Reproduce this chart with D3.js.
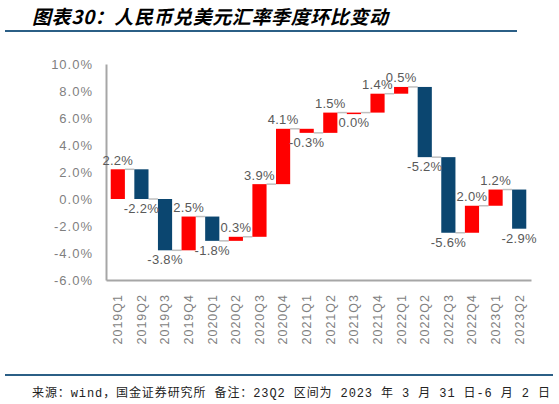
<!DOCTYPE html>
<html>
<head>
<meta charset="utf-8">
<script src="https://cdn.jsdelivr.net/npm/d3@7"></script>
<style>
  body { margin: 0; background: #fff; }
  svg { display: block; }
</style>
</head>
<body>
<div id="chart"></div>
<script>
// Data
const quarters = ["2019Q1", "2019Q2", "2019Q3", "2019Q4", "2020Q1", "2020Q2", "2020Q3", "2020Q4",
                  "2021Q1", "2021Q2", "2021Q3", "2021Q4", "2022Q1", "2022Q2", "2022Q3", "2022Q4",
                  "2023Q1", "2023Q2"];
const changes = [2.2, -2.2, -3.8, 2.5, -1.8, 0.3, 3.9, 4.1, -0.3, 1.5, 0.0, 1.4, 0.5, -5.2, -5.6, 2.0, 1.2, -2.9];
const series = ["升", "降", "降", "升", "降", "升", "升", "升", "升", "升", "升", "升", "升", "降", "降", "升", "升", "降"];
const yTicks = [-6, -4, -2, 0, 2, 4, 6, 8, 10];

const titleText = "图表30：人民币兑美元汇率季度环比变动";
const footText = "来源：wind，国金证券研究所 备注：23Q2 区间为 2023 年 3 月 31 日-6 月 2 日";

// Dimensions
const width = 559,
    height = 404;

const margin = {
    top: 64,
    bottom: 124,
    left: 106,
    right: 28
};

const svg = d3.select("#chart")
    .append("svg")
    .attr("width", width)
    .attr("height", height);

// Title and rules
svg.append("text")
    .attr("x", 32)
    .attr("y", 24)
    .attr("textLength", 356)
    .attr("lengthAdjust", "spacing")
    .text(titleText)
    .style("font-family", "'Noto Sans CJK SC', sans-serif")
    .style("font-size", "19px")
    .style("font-weight", "bold")
    .style("font-style", "italic")
    .style("fill", "#000");

svg.append("line")
    .attr("x1", 5).attr("x2", 517)
    .attr("y1", 31).attr("y2", 31)
    .attr("stroke", "#2B5F86")
    .attr("stroke-width", 2);

svg.append("line")
    .attr("x1", 5).attr("x2", 553)
    .attr("y1", 375).attr("y2", 375)
    .attr("stroke", "#2B5F86")
    .attr("stroke-width", 2);

svg.append("text")
    .attr("x", 32)
    .attr("y", 397)
    .attr("textLength", 518)
    .attr("lengthAdjust", "spacing")
    .text(footText)
    .style("font-family", "'Liberation Mono', 'Noto Sans CJK SC', monospace")
    .style("font-size", "12px")
    .style("fill", "#222");

// Cumulative levels
const ends = [];
changes.reduce((acc, v, i) => { ends[i] = acc + v; return ends[i]; }, 0);
const starts = ends.map((e, i) => e - changes[i]);

// Scales
const xScale = d3.scaleBand()
    .domain(quarters)
    .range([margin.left, width - margin.right])
    .paddingInner(0.4)
    .paddingOuter(0.2);

const yScale = d3.scaleLinear()
    .domain([-6, 10])
    .range([height - margin.bottom, margin.top]);

const colorScale = d3.scaleOrdinal()
    .domain(["升", "降"])
    .range(["#FF0000", "#0B4670"]);

// Axes
const yAxis = svg.append("g")
    .attr("transform", `translate(${margin.left}, 0)`)
    .call(d3.axisLeft(yScale).tickValues(yTicks).tickSize(0).tickPadding(13)
        .tickFormat(d => d.toFixed(1) + "%"));

const xAxis = svg.append("g")
    .attr("transform", `translate(0, ${height - margin.bottom})`)
    .call(d3.axisBottom(xScale).tickSize(0).tickSizeOuter(0));

xAxis.selectAll("text")
    .attr("transform", "rotate(-90)")
    .attr("x", -14)
    .attr("y", 0)
    .attr("dy", "0.35em")
    .style("text-anchor", "end")
    .style("letter-spacing", "1px")
    .style("font-size", "12.5px");

[xAxis, yAxis].forEach(ax => {
    ax.select(".domain").attr("stroke", "#A6A6A6").attr("stroke-width", 2);
    ax.selectAll("text")
        .style("font-family", "'Liberation Sans', Arial, sans-serif")
        .style("fill", "#7F7F7F");
});
yAxis.selectAll("text").style("font-size", "13px").style("letter-spacing", "1px");

// Connectors
svg.selectAll(".connector")
    .data(quarters.slice(0, -1))
    .enter()
    .append("line")
    .attr("class", "connector")
    .attr("x1", d => xScale(d) + xScale.bandwidth())
    .attr("x2", (d, i) => xScale(quarters[i + 1]))
    .attr("y1", (d, i) => yScale(ends[i]))
    .attr("y2", (d, i) => yScale(ends[i]))
    .attr("stroke", "#BFBFBF")
    .attr("stroke-width", 1.5);

// Bars
svg.selectAll(".bar")
    .data(quarters)
    .enter()
    .append("rect")
    .attr("class", "bar")
    .attr("x", d => xScale(d))
    .attr("width", xScale.bandwidth())
    .attr("y", (d, i) => yScale(Math.max(starts[i], ends[i])))
    .attr("height", (d, i) => Math.max(1.5, Math.abs(yScale(starts[i]) - yScale(ends[i]))))
    .attr("fill", (d, i) => colorScale(series[i]));

// Value labels (1.4% and 0.5% sit close together, as in the original)
svg.selectAll(".value")
    .data(quarters)
    .enter()
    .append("text")
    .attr("class", "value")
    .attr("x", d => xScale(d) + xScale.bandwidth() / 2)
    .attr("y", (d, i) => changes[i] > 0
        ? yScale(Math.max(starts[i], ends[i])) - 4.5
        : yScale(Math.min(starts[i], ends[i])) + 14)
    .text((d, i) => changes[i].toFixed(1) + "%")
    .style("text-anchor", "middle")
    .style("font-family", "'Liberation Sans', Arial, sans-serif")
    .style("font-size", "13px")
    .style("letter-spacing", "0.3px")
    .style("fill", "#595959");
</script>
</body>
</html>
